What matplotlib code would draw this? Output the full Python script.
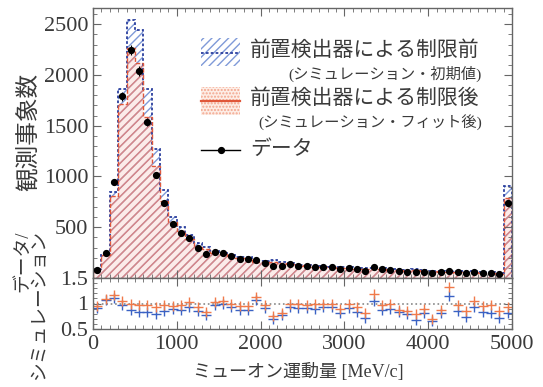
import numpy as np
import matplotlib.pyplot as plt
from matplotlib.patches import Rectangle
from matplotlib.lines import Line2D
from matplotlib.ticker import MultipleLocator

# 100 MeV/c bins from 0 to 5000, last bin holds the overflow
edges = np.arange(0, 5001, 100)

data = [80, 245, 945, 1790, 2245, 2040, 1535, 1015, 740, 530,
        445, 395, 295, 235, 255, 245, 215, 185, 185, 175,
        150, 120, 120, 140, 120, 120, 110, 110, 105, 90,
        100, 85, 72, 105, 85, 79, 72, 62, 62, 62,
        46, 56, 72, 56, 52, 62, 46, 46, 36, 740]

# simulation before the near-detector constraint (nominal)
mc_before = [87, 231, 850, 1860, 2545, 2440, 1860, 1270, 870, 600,
             505, 425, 347, 301, 263, 247, 229, 210, 210, 165,
             163, 174, 156, 151, 132, 133, 122, 118, 112, 111,
             109, 102, 100, 100, 97, 88, 87, 78, 91, 77,
             71, 69, 63, 65, 70, 67, 55, 57, 50, 910]

# simulation after the near-detector constraint (post-fit)
mc_after = [84, 227, 810, 1715, 2270, 2120, 1590, 1100, 760, 555,
            460, 383, 320, 283, 250, 233, 215, 193, 193, 155,
            155, 158, 146, 140, 120, 124, 111, 110, 105, 100,
            100, 92, 88, 89, 88, 80, 82, 73, 79, 70,
            66, 64, 54, 58, 61, 59, 48, 47, 42, 790]

BLUE_HATCH = '#7f9ad8'
BLUE_LINE = '#2b3f9e'
RED_HATCH = '#d98585'
RED_FILL = (0.97, 0.70, 0.66, 0.25)
RED_LINE = '#e0573a'
RED_KEY = '#f3a58c'
TXT = '#3a3a3a'
FONT = ['Liberation Serif', 'Noto Sans CJK JP']

plt.rcParams['font.family'] = FONT
plt.rcParams['hatch.linewidth'] = 1.0

data = np.array(data, float)
mc_before = np.array(mc_before, float)
mc_after = np.array(mc_after, float)
centers = 0.5 * (edges[:-1] + edges[1:])

W, H = 543, 387
fig = plt.figure(figsize=(W / 100, H / 100), dpi=100)


def px_box(x0, y0, x1, y1):
    return [x0 / W, 1 - y1 / H, (x1 - x0) / W, (y1 - y0) / H]


ax = fig.add_axes(px_box(93, 8, 512, 278))
rx = fig.add_axes(px_box(93, 278, 512, 329), sharex=ax)

# main panel: hatched histograms, post-fit drawn over the nominal one
ax.stairs(mc_before, edges, fill=True, facecolor='none', edgecolor=BLUE_HATCH,
          hatch='////', linewidth=0)
ax.stairs(mc_after, edges, fill=True, facecolor=RED_FILL, edgecolor=RED_HATCH,
          hatch='////', linewidth=0)
ax.stairs(mc_before, edges, color=BLUE_LINE, linestyle=(0, (1.5, 1.2)), linewidth=1.3)
ax.stairs(mc_after, edges, color=RED_LINE, linestyle=(0, (3, 1.5)), linewidth=1.0)
ax.errorbar(centers, data, yerr=np.sqrt(data), fmt='o', color='black', ms=4.2,
            elinewidth=0.8, capsize=0, zorder=5)

ax.set_xlim(0, 5000)
ax.set_ylim(0, 2660)
ax.set_yticks([500, 1000, 1500, 2000, 2500])
ax.yaxis.set_minor_locator(MultipleLocator(100))
ax.xaxis.set_major_locator(MultipleLocator(1000))
ax.xaxis.set_minor_locator(MultipleLocator(100))
ax.tick_params(labelbottom=False)

# ratio panel
rx.axhline(1, color='#888888', linestyle=':', linewidth=1.2)
rx.plot(centers, data / mc_before, '+', color='#3a62c4', ms=6.5, mew=1.0)
rx.plot(centers, data / mc_after, '+', color='#f07a4a', ms=6.5, mew=1.0)
rx.set_ylim(0.5, 1.5)
rx.set_yticks([0.5, 1, 1.5])
rx.set_yticklabels(['0.5', '1', '1.5'])
rx.yaxis.set_minor_locator(MultipleLocator(0.1))
rx.set_xticks([0, 1000, 2000, 3000, 4000, 5000])

for a in (ax, rx):
    a.tick_params(which='both', direction='in', top=True, right=True,
                  colors='#666666', labelcolor=TXT, labelsize=16)
    a.tick_params(which='major', length=6, width=0.8)
    a.tick_params(which='minor', length=3, width=0.6)
    for s in a.spines.values():
        s.set_color('#666666')
        s.set_linewidth(1.0)
rx.tick_params(axis='x', pad=4)


def fx(x):
    return x / W


def fy(y):
    return 1 - y / H


# axis titles
fig.text(fx(29), fy(132), '観測事象数', rotation=90, ha='center', va='center',
         fontsize=17, color=TXT)
fig.text(fx(31), fy(305), 'データ/\nシミュレーション', rotation=90, ha='center',
         va='center', multialignment='right', fontsize=13.5, linespacing=0.95,
         color=TXT)
fig.text(fx(298), fy(372), 'ミューオン運動量 [MeV/c]', ha='center', va='center',
         fontsize=13, color=TXT)

# legend
lg = fig.transFigure
fig.patches.append(Rectangle((fx(201), fy(66)), fx(39), 28 / H, transform=lg,
                             facecolor='none', edgecolor=BLUE_HATCH, hatch='////',
                             linewidth=0))
fig.lines.append(Line2D([fx(201), fx(240)], [fy(53), fy(53)], transform=lg,
                        color=BLUE_LINE, linestyle=(0, (1.5, 1.2)), linewidth=1.3))
fig.patches.append(Rectangle((fx(201), fy(115)), fx(39), 28 / H, transform=lg,
                             facecolor=(0.98, 0.80, 0.72, 0.35), edgecolor=RED_KEY,
                             hatch='.....', linewidth=0))
fig.lines.append(Line2D([fx(201), fx(240)], [fy(101), fy(101)], transform=lg,
                        color=RED_LINE, linewidth=1.6))
fig.lines.append(Line2D([fx(201), fx(240)], [fy(150), fy(150)], transform=lg,
                        color='black', linewidth=1.0))
fig.lines.append(Line2D([fx(220.5)], [fy(150)], transform=lg, color='black',
                        marker='o', ms=4.2, linestyle='none'))

fig.text(fx(250), fy(51), '前置検出器による制限前', ha='left', va='center',
         fontsize=15, color=TXT)
fig.text(fx(482), fy(74), '(シミュレーション・初期値)', ha='right', va='center',
         fontsize=11, color=TXT)
fig.text(fx(250), fy(99), '前置検出器による制限後', ha='left', va='center',
         fontsize=15, color=TXT)
fig.text(fx(482), fy(122), '(シミュレーション・フィット後)', ha='right', va='center',
         fontsize=11, color=TXT)
fig.text(fx(250), fy(150), 'データ', ha='left', va='center', fontsize=15, color=TXT)

fig.savefig('out.png', dpi=100)
